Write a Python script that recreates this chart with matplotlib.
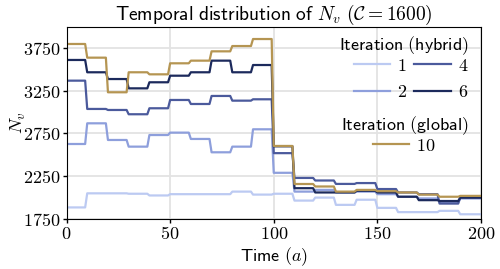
import numpy as np
import matplotlib
matplotlib.use('Agg')
import matplotlib.pyplot as plt
from matplotlib.ticker import FuncFormatter

plt.rcParams['mathtext.fontset'] = 'cm'

# step values per 10-year block (0-10, 10-20, ..., 190-200)
iter1 = [1885, 2050, 2050, 2045, 2025, 2040, 2040, 2040, 2070, 2035,
         2045, 1965, 2000, 1915, 1975, 1880, 1830, 1830, 1845, 1805]
iter2 = [2627, 2869, 2674, 2596, 2732, 2760, 2686, 2530, 2596, 2799,
         2290, 2070, 2090, 2060, 2070, 2040, 2010, 1990, 1950, 1990]
iter4 = [3368, 3037, 3025, 2975, 3045, 3142, 3095, 3189, 3134, 3150,
         2520, 2230, 2200, 2160, 2170, 2100, 2060, 2040, 1930, 2000]
iter6 = [3610, 3466, 3387, 3278, 3349, 3426, 3466, 3602, 3466, 3551,
         2600, 2110, 2060, 2060, 2080, 2060, 2010, 1970, 1960, 2000]
iter10 = [3797, 3637, 3232, 3466, 3442, 3571, 3602, 3711, 3773, 3855,
          2604, 2159, 2130, 2070, 2090, 2075, 2060, 2035, 2010, 2020]

hybrid_labels = ['1', '2', '4', '6']
hybrid_colors = ['#bccaf2', '#8e9fdc', '#4b5a9c', '#1c2a5c']
global_color = '#b59552'

t = np.arange(0, 201)


def expand(vals):
    # each block holds for 10 years
    return np.append(np.repeat(vals, 10), vals[-1])


fig = plt.figure(figsize=(5, 2.69), dpi=100)
ax = fig.add_axes([0.133, 0.186, 0.829, 0.715])

hybrid_lines = []
for vals, lab, col in zip([iter1, iter2, iter4, iter6], hybrid_labels, hybrid_colors):
    ln, = ax.plot(t, expand(vals), color=col, lw=1.6, label=r'$\mathsf{%s}$' % lab)
    hybrid_lines.append(ln)
gl, = ax.plot(t, expand(iter10), color=global_color, lw=1.6, label=r'$\mathsf{10}$')

ax.set_xlim(0, 200)
ax.set_ylim(1750, 4000)
ax.set_xticks([0, 50, 100, 150, 200])
ax.set_yticks([1750, 2250, 2750, 3250, 3750])
fmt = FuncFormatter(lambda v, p: r'$%d$' % v)
ax.xaxis.set_major_formatter(fmt)
ax.yaxis.set_major_formatter(fmt)
ax.tick_params(labelsize=13, length=3, width=1, pad=1)
ax.grid(True, color='#e3e3e3', lw=1.3)
ax.set_axisbelow(True)

ax.set_title(r'$\mathsf{Temporal\ distribution\ of}\ N_v\ (\mathcal{C}=1600)$', fontsize=14, pad=5)
ax.set_xlabel(r'$\mathsf{Time}\ (a)$', fontsize=13, labelpad=2)
ax.set_ylabel(r'$N_v$', fontsize=13, labelpad=-3)

leg1 = ax.legend(handles=hybrid_lines, ncol=2, loc='upper right', bbox_to_anchor=(1.0, 1.025),
                 frameon=False, fontsize=13, title=r'$\mathsf{Iteration\ (hybrid)}$',
                 title_fontsize=13, handlelength=2.0, handletextpad=0.4,
                 columnspacing=0.4, labelspacing=0.45, borderpad=0.2)
leg1._legend_box.align = 'right'
leg1._legend_box.sep = -0.3
ax.add_artist(leg1)
leg2 = ax.legend(handles=[gl], loc='upper right', bbox_to_anchor=(1.0, 0.61),
                 frameon=False, fontsize=13, title=r'$\mathsf{Iteration\ (global)}$',
                 title_fontsize=13, handlelength=2.0, handletextpad=0.4,
                 labelspacing=0.2, borderpad=0.2)
leg2._legend_box.sep = -0.3

plt.savefig('out.png', dpi=100)
